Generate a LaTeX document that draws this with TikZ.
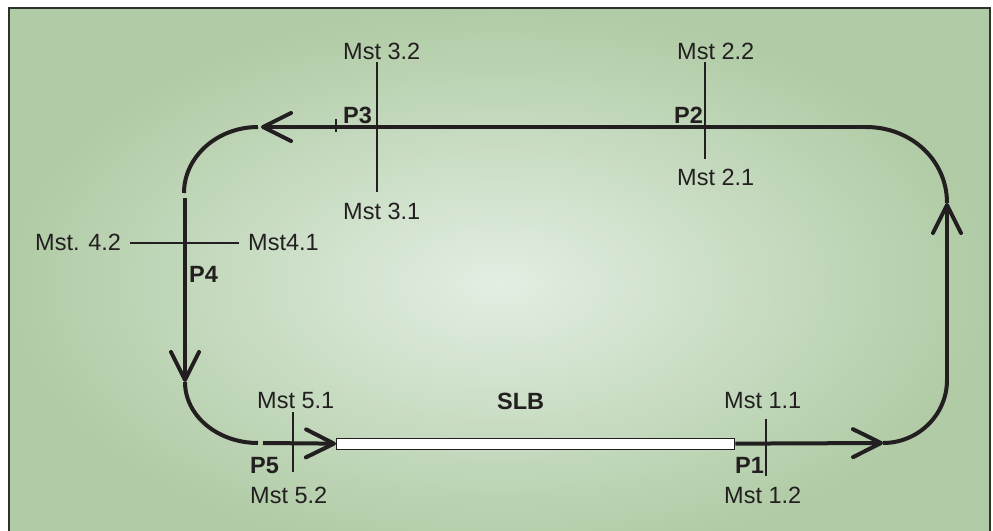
\documentclass[tikz,border=0pt]{standalone}
\usepackage{fontspec}
\setmainfont{Liberation Sans}
\usetikzlibrary{arrows.meta}
\definecolor{ink}{RGB}{35,31,32}
\definecolor{bgout}{RGB}{176,203,165}
\definecolor{bgin}{RGB}{226,238,226}
\definecolor{framec}{RGB}{45,50,45}
\tikzset{
  lbl/.style={inner sep=0pt, anchor=west, text=ink, font=\fontsize{23.5}{27}\selectfont},
  plbl/.style={lbl, font=\fontsize{23.5}{27}\selectfont\bfseries},
  track/.style={draw=ink, line width=4pt},
  trackarrow/.style={track, -{Straight Barb[length=28pt,width=28pt,line width=4pt,round]}},
  mst/.style={draw=ink, line width=1.7pt},
  slbbox/.style={draw=ink, fill=white, line width=1.3pt}
}
\begin{document}
\begin{tikzpicture}[x=1pt,y=-1pt]
\useasboundingbox (0,0) rectangle (993,530);
\clip (0,0) rectangle (993,530);
\fill[white] (0,0) rectangle (993,530);
% background panel
\shade[inner color=bgin, outer color=bgout] (9,8) rectangle (990,560);
\draw[framec, line width=2.5pt] (9,8) rectangle (990,560);

% track coordinates
\coordinate (br1) at (883,443);
\coordinate (rv0) at (947,380);
\coordinate (rv1) at (947,203);
\coordinate (tr0) at (866,127);
\coordinate (tl1) at (261,127);
\coordinate (tl2) at (258,127);
\coordinate (lv0) at (184,193);
\coordinate (lv1) at (185,198);
\coordinate (lv2) at (185,382);
\coordinate (bl0) at (258,443);
\coordinate (bl1) at (263,443);

% SLB bar
\node[slbbox, minimum width=398pt, minimum height=11pt, inner sep=0pt, anchor=north west] (slb) at (336,437.5) {};

% track
\draw[trackarrow] (slb.east) -- (br1);
\draw[track] (br1) .. controls (918,443) and (947,415) .. (rv0);
\draw[trackarrow] (rv0) -- (rv1);
\draw[track] (rv1) .. controls (947,160) and (911,127) .. (tr0);
\draw[trackarrow] (tr0) -- (tl1);
\draw[track] (tl2) .. controls (217,127) and (184,157) .. (lv0);
\draw[trackarrow] (lv1) -- (lv2);
\draw[track] (lv2) .. controls (185,416) and (218,443) .. (bl0);
\draw[trackarrow] (bl1) -- (slb.west);

% small tick on top line
\coordinate (tk0) at (336,119);
\coordinate (tk1) at (336,132);
\draw[mst, line width=1.3pt] (tk0) -- (tk1);

% labels
\node[lbl] (m32) at (343,51) {Mst 3.2};
\node[lbl] (m31) at (343,211) {Mst 3.1};
\node[plbl] (p3) at (343,115.5) {P3};
\node[lbl] (m22) at (677,51) {Mst 2.2};
\node[lbl] (m21) at (677,177.5) {Mst 2.1};
\node[plbl] (p2) at (674,115.5) {P2};
\node[lbl] (m42) at (35,242.5) {Mst. 4.2};
\node[lbl] (m41) at (248,242.5) {Mst4.1};
\node[plbl] (p4) at (189,274.5) {P4};
\node[lbl] (m51) at (257,401) {Mst 5.1};
\node[lbl] (m52) at (250,495.5) {Mst 5.2};
\node[plbl] (p5) at (250,465.5) {P5};
\node[plbl] (slbl) at (497,401) {SLB};
\node[lbl] (m11) at (724,401) {Mst 1.1};
\node[lbl] (m12) at (724,495.5) {Mst 1.2};
\node[plbl] (p1) at (735,465.5) {P1};

% measuring points
\coordinate (a3) at (377,62);  \coordinate (b3) at (377,192);
\coordinate (a2) at (705,62);  \coordinate (b2) at (705,159);
\coordinate (a4) at (130,243); \coordinate (b4) at (239,243);
\coordinate (a5) at (293,412); \coordinate (b5) at (293,472);
\coordinate (a1) at (766,419); \coordinate (b1) at (766,476);
\draw[mst] (a3) -- (b3);
\draw[mst] (a2) -- (b2);
\draw[mst] (a4) -- (b4);
\draw[mst] (a5) -- (b5);
\draw[mst] (a1) -- (b1);
\end{tikzpicture}
\end{document}
